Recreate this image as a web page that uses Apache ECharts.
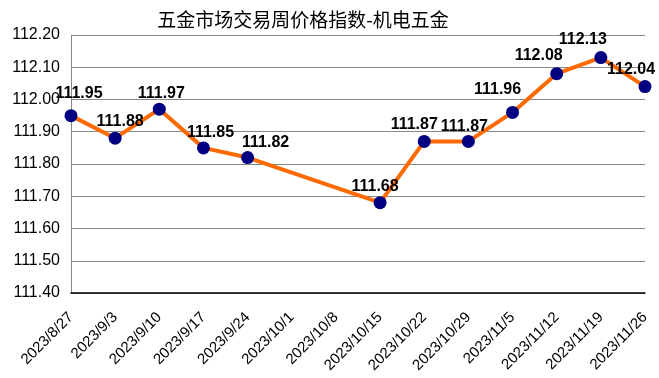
<!DOCTYPE html>
<html lang="zh">
<head>
    <meta charset="UTF-8">
    <title>五金市场交易周价格指数-机电五金</title>
    <script src="https://cdn.jsdelivr.net/npm/echarts@6/dist/echarts.min.js"></script>
    <style>
        html, body { margin: 0; padding: 0; background: #fff; }
        #main { width: 659px; height: 378px; }
    </style>
</head>
<body>
<div id="main"></div>
<script>
    // 周日期
    var weeks = ['2023/8/27', '2023/9/3', '2023/9/10', '2023/9/17', '2023/9/24', '2023/10/1', '2023/10/8',
        '2023/10/15', '2023/10/22', '2023/10/29', '2023/11/5', '2023/11/12', '2023/11/19', '2023/11/26'];
    // 价格指数（10/1、10/8 无数据）
    var indexValues = [111.95, 111.88, 111.97, 111.85, 111.82, null, null,
        111.68, 111.87, 111.87, 111.96, 112.08, 112.13, 112.04];

    // 数据标签相对点的偏移（像素）
    var labelDx = [8, 5, 2, 7, 18, 0, 0, -5, -10, -4, -15, -18, -18, -14];
    var labelDy = [-22, -17, -16, -15, -15, 0, 0, -16, -17, -15, -23, -18, -18, -17];

    var seriesData = indexValues.map(function (v, i) {
        if (v === null) return null;
        return {
            value: v,
            label: { offset: [labelDx[i], labelDy[i]] }
        };
    });

    var myChart = echarts.init(document.getElementById('main'));

    var option = {
        animation: false,
        title: {
            text: '五金市场交易周价格指数-机电五金',
            left: 298,
            textAlign: 'center',
            top: 5,
            textStyle: {
                fontFamily: '"Noto Sans CJK SC", sans-serif',
                fontSize: 19,
                fontWeight: 'normal',
                color: '#000'
            }
        },
        grid: {
            left: 71,
            right: 14,
            top: 35,
            bottom: 85
        },
        xAxis: {
            type: 'category',
            data: weeks,
            boundaryGap: false,
            axisLine: { lineStyle: { color: '#000', width: 1.5 } },
            axisTick: { show: false },
            axisLabel: {
                interval: 0,
                rotate: 45,
                margin: 22,
                fontFamily: '"Liberation Sans", Arial, sans-serif',
                fontSize: 15,
                color: '#000'
            }
        },
        yAxis: {
            type: 'value',
            min: 111.4,
            max: 112.2,
            interval: 0.1,
            axisLine: { show: true, lineStyle: { color: '#888' } },
            axisTick: { show: false },
            splitLine: { lineStyle: { color: '#888', width: 1 } },
            axisLabel: {
                margin: 11,
                fontFamily: '"Liberation Sans", Arial, sans-serif',
                fontSize: 16,
                color: '#000',
                formatter: function (v) { return v.toFixed(2); }
            }
        },
        series: [
            {
                name: '机电五金',
                type: 'line',
                data: seriesData,
                connectNulls: true,
                symbol: 'circle',
                symbolSize: 13,
                lineStyle: { color: '#FF6A00', width: 4 },
                itemStyle: { color: '#000080' },
                label: {
                    show: true,
                    position: 'inside',
                    fontFamily: '"Liberation Sans", Arial, sans-serif',
                    fontSize: 16,
                    fontWeight: 'bold',
                    color: '#000',
                    formatter: function (p) { return p.value.toFixed(2); }
                }
            }
        ]
    };

    myChart.setOption(option);
</script>
</body>
</html>
